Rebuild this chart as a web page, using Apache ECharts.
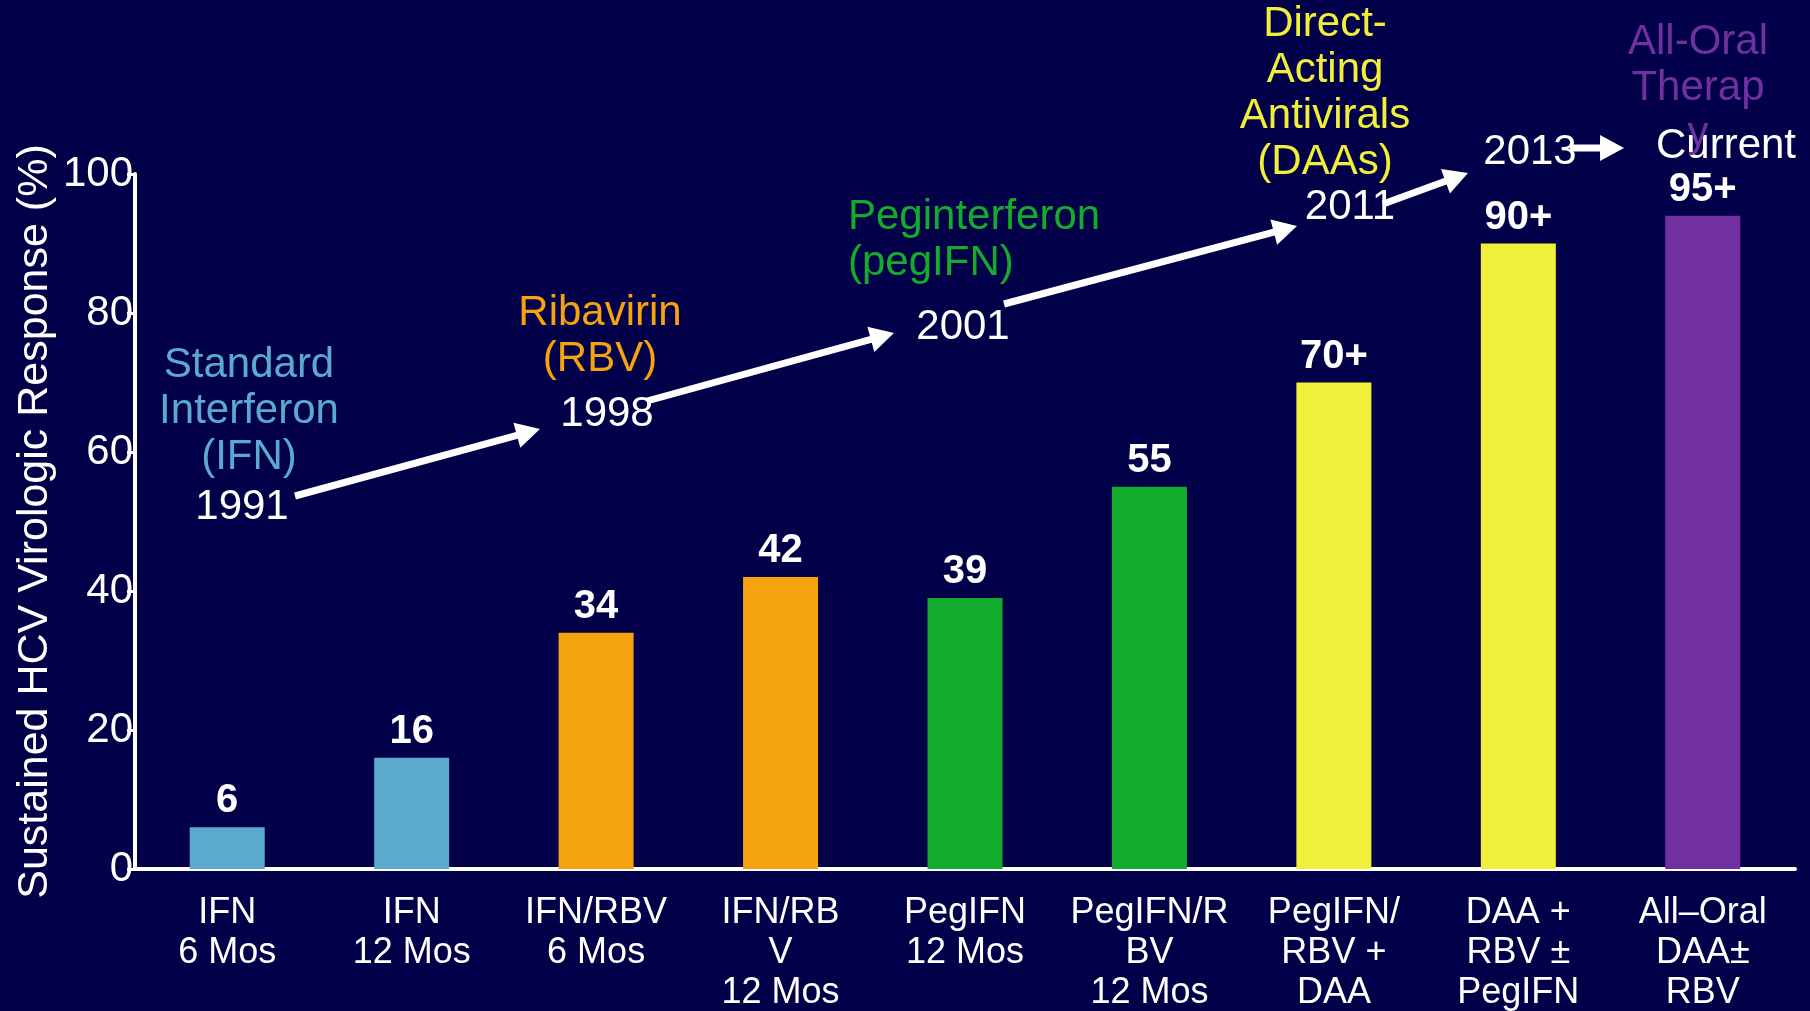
<!DOCTYPE html>
<html>
<head>
<meta charset="utf-8">
<title>HCV SVR by regimen</title>
<script src="https://cdn.jsdelivr.net/npm/echarts@6/dist/echarts.min.js"></script>
<style>
  html, body { margin: 0; padding: 0; background: #020048; }
  #chart { width: 1810px; height: 1011px; }
</style>
</head>
<body>
<div id="chart"></div>
<script>
// data
const categories = [
  'IFN\n6 Mos', 'IFN\n12 Mos', 'IFN/RBV\n6 Mos', 'IFN/RB\nV\n12 Mos',
  'PegIFN\n12 Mos', 'PegIFN/R\nBV\n12 Mos', 'PegIFN/\nRBV +\nDAA',
  'DAA +\nRBV ±\nPegIFN', 'All–Oral\nDAA±\nRBV'
]
const values = [6, 16, 34, 42, 39, 55, 70, 90, 94]
const valueLabels = ['6', '16', '34', '42', '39', '55', '70+', '90+', '95+']
const yTicks = [0, 20, 40, 60, 80, 100]

const BLUE = '#5BAACE'
const ORANGE = '#F5A30F'
const GREEN = '#14AC2D'
const YELLOW = '#F0EF3A'
const PURPLE = '#7030A0'
const barColors = [BLUE, BLUE, ORANGE, ORANGE, GREEN, GREEN, YELLOW, YELLOW, PURPLE]

const FONT = '"Liberation Sans", Arial, Helvetica, sans-serif'

// annotation text block, y = centre of first line
function note(text, x, y, color, align) {
  return {
    type: 'text',
    z: 10,
    style: {
      text: text,
      x: x,
      y: y - 23,
      fill: color,
      font: '42px ' + FONT,
      lineHeight: 46,
      align: align || 'center',
      verticalAlign: 'top'
    }
  }
}

// white arrow from (x1,y1) to the tip (x2,y2)
function arrow(x1, y1, x2, y2) {
  const dx = x2 - x1
  const dy = y2 - y1
  const len = Math.sqrt(dx * dx + dy * dy)
  const ux = dx / len
  const uy = dy / len
  const L = 24
  const W = 13
  const bx = x2 - ux * L
  const by = y2 - uy * L
  return [{
    type: 'line',
    z: 9,
    shape: { x1: x1, y1: y1, x2: bx + ux * 2, y2: by + uy * 2 },
    style: { stroke: '#fff', lineWidth: 7 }
  }, {
    type: 'polygon',
    z: 9,
    shape: { points: [[x2, y2], [bx - uy * W, by + ux * W], [bx + uy * W, by - ux * W]] },
    style: { fill: '#fff' }
  }]
}

const myChart = echarts.init(document.getElementById('chart'))

const graphics = [].concat(
  arrow(295, 496, 540, 429),
  arrow(647, 401, 894, 333),
  arrow(1004, 304, 1297, 226),
  arrow(1383, 204, 1468, 173),
  arrow(1570, 148, 1624, 148),
  [
    note('Standard\nInterferon\n(IFN)', 249, 365, BLUE),
    note('1991', 242, 507, '#fff'),
    note('Ribavirin\n(RBV)', 600, 313, ORANGE),
    note('1998', 607, 414, '#fff'),
    note('Peginterferon\n(pegIFN)', 848, 217, GREEN, 'left'),
    note('2001', 963, 327, '#fff'),
    note('Direct-\nActing\nAntivirals\n(DAAs)', 1325, 24, YELLOW),
    note('2011', 1350, 207, '#fff'),
    note('2013', 1530, 152, '#fff'),
    note('Current', 1726, 146, '#fff'),
    note('All-Oral\nTherap\ny', 1698, 42, PURPLE)
  ]
)

const option = {
  backgroundColor: '#020048',
  animation: false,
  textStyle: { fontFamily: FONT },
  grid: {
    left: 135,
    right: 15,
    top: 174,
    bottom: 142,
    containLabel: false,
    outerBoundsMode: 'none'
  },
  xAxis: {
    type: 'category',
    data: categories,
    axisLine: { lineStyle: { color: '#fff', width: 4 } },
    axisTick: { length: 14, lineStyle: { color: '#fff', width: 4 } },
    axisLabel: {
      color: '#fff',
      fontSize: 36,
      lineHeight: 40,
      margin: 24,
      interval: 0,
      fontFamily: FONT
    }
  },
  yAxis: {
    type: 'value',
    min: 0,
    max: 100,
    interval: 20,
    name: 'Sustained HCV Virologic Response (%)',
    nameLocation: 'middle',
    nameGap: 78,
    nameMoveOverlap: false,
    nameTextStyle: { color: '#fff', fontSize: 43, fontFamily: FONT },
    splitLine: { show: false },
    axisLine: { show: true, lineStyle: { color: '#fff', width: 4 } },
    axisTick: { show: true, length: 8, lineStyle: { color: '#fff', width: 3 } },
    axisLabel: {
      color: '#fff',
      fontSize: 42,
      margin: 2,
      fontFamily: FONT,
      formatter: function (v) { return yTicks.indexOf(v) >= 0 ? String(v) : '' }
    }
  },
  series: [{
    type: 'bar',
    barWidth: 75,
    data: values.map(function (v, i) {
      return { value: v, itemStyle: { color: barColors[i] } }
    }),
    label: {
      show: true,
      position: 'top',
      distance: 6,
      color: '#fff',
      fontSize: 40,
      fontWeight: 'bold',
      fontFamily: FONT,
      formatter: function (p) { return valueLabels[p.dataIndex] }
    }
  }],
  graphic: graphics
}

myChart.setOption(option)
</script>
</body>
</html>
